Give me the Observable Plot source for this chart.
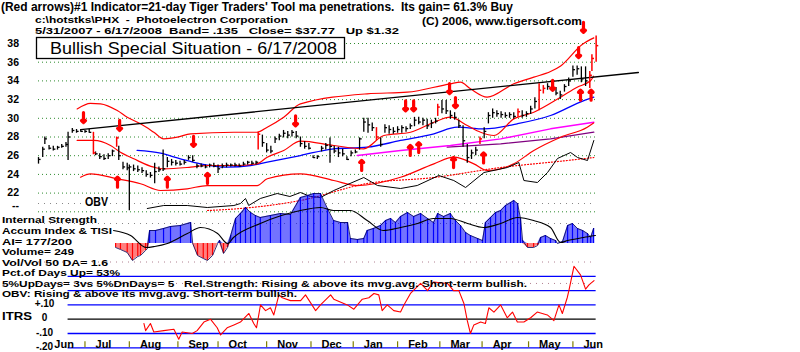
<!DOCTYPE html>
<html><head><meta charset="utf-8">
<script src="https://cdn.jsdelivr.net/npm/d3@7"></script>
<script src="https://cdn.jsdelivr.net/npm/@observablehq/plot@0.6"></script>
<style>
html,body{margin:0;padding:0;background:#fff;}
#chart{position:relative;width:800px;height:352px;overflow:hidden;background:#fff;font-family:"Liberation Sans",Arial,sans-serif;}
#chart svg{position:absolute;left:0;top:0;}
</style></head><body><div id="chart"></div>
<script>
// ---------------- DATA (x = trading day since 5/31/2007) ----------------
const priceTicks = [22,24,26,28,30,32,34,36,38];
const gridLevels = [20,22,24,26,28,30,32,34,36,38];
const lowLabel = "--";
// [day, high, low, close]
const bars = [[0,25.8,25.1,25.6],[2,26.9,25.8,26.7],[3,28.0,27.2,27.8],[5,27.1,26.6,26.8],[7,27.0,26.5,26.7],[9,27.0,26.6,26.9],[11,27.2,26.8,27.0],[13,27.4,26.9,27.2],[14,28.5,25.5,28.0],[16,28.9,28.4,28.7],[18,28.8,28.4,28.6],[20,28.8,28.5,28.6],[22,28.7,28.4,28.6],[24,28.8,28.4,28.5],[26,28.5,26.1,26.3],[27,26.4,26.0,26.2],[29,26.2,25.6,25.9],[31,26.1,25.5,25.7],[33,26.2,25.6,26.0],[35,26.6,25.9,26.5],[37,28.0,26.9,27.9],[38,27.0,25.5,26.0],[40,25.3,24.5,24.8],[42,25.2,24.4,24.7],[43,25.0,20.1,24.8],[45,25.0,24.3,24.6],[47,24.9,24.2,24.5],[49,24.7,24.1,24.4],[51,24.4,23.7,24.0],[53,24.2,23.6,23.9],[55,25.2,23.0,24.3],[57,24.8,24.2,24.5],[59,26.6,24.3,24.6],[61,25.8,24.7,25.4],[63,25.6,24.9,25.3],[65,25.5,24.9,25.2],[67,25.4,24.9,25.1],[69,25.5,25.0,25.3],[71,26.0,25.5,25.8],[73,26.0,25.3,25.5],[75,25.1,24.6,24.9],[77,25.1,24.7,24.9],[79,25.0,24.6,24.8],[81,25.1,24.7,25.0],[83,25.2,24.7,24.9],[85,25.0,24.1,24.6],[87,25.1,24.6,24.9],[89,25.2,24.7,25.0],[91,25.1,24.8,25.0],[93,25.2,24.8,25.0],[95,25.1,24.8,24.9],[97,25.3,24.9,25.1],[99,25.4,25.0,25.3],[101,25.4,25.0,25.2],[103,25.4,25.0,25.3],[104,28.5,26.6,28.3],[106,28.2,26.9,27.4],[108,27.3,26.3,26.6],[110,27.0,26.2,26.5],[112,28.0,27.3,27.8],[114,28.3,27.6,28.1],[116,28.7,27.9,28.4],[118,28.6,27.8,28.2],[120,28.7,28.0,28.5],[122,28.6,27.8,28.1],[124,28.0,26.9,27.3],[126,27.5,26.7,27.0],[128,27.3,26.6,26.8],[130,26.0,25.7,25.8],[132,26.0,25.6,25.9],[134,27.0,26.4,26.8],[136,27.3,26.6,27.1],[138,27.9,25.2,27.0],[140,27.0,26.2,26.5],[142,26.9,25.8,26.3],[144,26.7,25.9,26.2],[146,25.9,25.5,25.6],[148,26.5,25.9,26.3],[150,26.6,26.2,26.4],[152,27.9,26.6,27.8],[154,30.0,28.5,29.6],[156,30.0,28.4,29.3],[158,29.5,28.6,29.0],[160,29.0,27.6,28.0],[162,27.9,26.9,27.2],[164,29.3,28.4,29.0],[166,29.2,28.3,28.8],[168,29.0,28.3,28.6],[170,29.1,28.4,28.8],[172,29.2,28.4,29.0],[174,29.1,28.5,28.9],[176,29.4,28.8,29.2],[178,30.1,29.1,29.8],[180,30.1,29.3,29.6],[182,30.0,29.2,29.8],[184,29.9,28.8,29.2],[186,29.8,28.9,29.5],[188,30.0,29.4,29.7],[189,31.5,30.2,31.2],[191,31.9,30.5,31.0],[193,31.9,30.4,30.8],[195,30.8,29.9,30.3],[197,30.6,29.8,30.1],[199,29.8,28.9,29.2],[201,29.2,26.9,27.6],[203,27.2,25.2,25.8],[205,26.6,25.6,26.3],[207,26.9,26.0,26.6],[209,28.0,27.2,27.8],[211,29.0,27.8,28.6],[213,30.6,29.4,30.3],[215,31.0,30.0,30.6],[217,30.8,30.1,30.5],[219,30.7,30.0,30.4],[221,30.6,30.0,30.3],[223,30.6,30.0,30.4],[225,30.6,29.9,30.2],[227,31.0,30.1,30.7],[229,30.8,30.0,30.3],[231,30.7,30.1,30.5],[233,31.3,30.4,31.0],[235,32.2,31.0,31.8],[237,33.7,30.8,33.0],[239,33.5,32.6,33.2],[241,33.7,33.0,33.4],[243,33.6,33.0,33.3],[245,33.3,32.4,32.7],[247,32.9,32.0,32.5],[249,33.6,32.8,33.4],[251,34.3,33.4,34.0],[253,35.6,34.4,35.2],[255,35.6,34.6,35.3],[257,35.5,33.8,34.2],[259,35.5,33.4,34.0],[261,35.0,33.2,34.6],[262,36.8,35.0,36.4],[264,38.8,36.0,37.77]];
const redBarDays = [26,37,104,160,189,209,227,237,239,261,262,264];
const trendLine = [[20,28.78],[284,34.9]];
const upperBand = [[18.3,31.0],[24.6,31.6],[29.4,31.55],[37.3,30.83],[42,30.12],[48.3,29.41],[54.6,28.51],[59.3,27.8],[65.7,27.98],[72,28.34],[92.5,28.51],[103.5,28.51],[108.3,29.05],[116.1,30.12],[124,31.55],[155.6,32.62],[174.6,32.79],[195,33.69],[199.8,33.86],[204.5,33.15],[212.4,32.26],[225,33.69],[234.5,34.4],[242.4,35.0],[247.2,35.6],[257.4,37.9],[262.9,38.6]];
const midLine = [[18.3,27.63],[26.2,27.63],[34.1,27.09],[38.8,26.37],[45.1,25.67],[54.6,24.77],[59.3,24.59],[72,24.77],[79.9,24.95],[92.5,24.95],[103.5,25.13],[108.3,25.84],[116.1,26.56],[124,27.55],[139.8,27.09],[154,26.74],[163.5,28.16],[176.1,28.51],[187.2,29.58],[195,30.12],[203,29.23],[209.3,28.51],[215.6,28.16],[225,29.94],[234.5,30.65],[247.2,32.26],[255,33.33],[261.4,34.04],[262.8,34.5]];
const lowerBand = [[19.9,23.7],[24.6,24.06],[37.3,23.53],[48.3,23.0],[57.8,22.28],[70.4,22.46],[79.9,22.81],[103.5,22.81],[108.3,23.53],[124,24.06],[139.8,23.35],[150.9,22.81],[171.4,23.7],[187.2,25.13],[196.6,25.84],[206.1,25.13],[212.4,24.42],[225,25.13],[234.5,26.56],[247.2,27.98],[259.8,29.05],[262.8,29.5]];
const ma50 = [[46.7,26.56],[57.8,26.27],[67.2,25.67],[76.7,25.13],[89.3,24.77],[100.4,24.95],[108.3,25.31],[124,26.02],[139.8,26.74],[155.6,26.91],[171.4,27.63],[187.2,28.34],[198.2,29.05],[210.9,28.87],[226.6,29.41],[242.4,30.3],[258.2,31.9],[262.9,32.26]];
const maMagenta = [[150.9,26.02],[171.4,26.56],[195,27.09],[218.8,27.8],[242.4,28.87],[262.9,29.58]];
const maPurple = [[193.5,26.91],[218.8,27.27],[242.4,27.8],[262.9,28.51]];
const downArrows = [[21.3,29.55],[38.4,28.7],[73.4,27.0],[121.7,29.2],[173.8,30.8],[177.6,30.8],[194.6,32.65],[197.4,31.15],[243.4,33.0],[255.7,36.5],[258,39.2]];
const upArrows = [[37.4,23.7],[61,23.7],[80,24.1],[153,25.5],[176,27.1],[180,27.4],[196.5,25.8],[210.7,26.3],[256.6,33.0],[261.6,33.0]];
const obv = [[51.5,20],[59.3,50],[70.4,50],[79.9,30],[92.5,50],[95.6,70],[98,120],[99.5,50],[105,120],[113,170],[119,140],[124,180],[128.8,140],[133.5,130],[139.8,200],[154,330],[160.5,250],[171.4,220],[179.3,250],[189.5,350],[196.6,300],[202.2,230],[210.9,380],[222,430],[227.4,480],[229.8,300],[236.2,280],[241,380],[245.7,520],[251.9,580],[255.2,530],[259.9,500],[262.9,700]];
const obvMa = [[80,0],[95.6,20],[124,100],[155.6,270],[187.2,330],[218.8,430],[250.3,500],[262.9,530]];
const accum = [[36.5,-4],[38.8,-6],[42,-9],[44.5,-17],[47,-13],[48.3,-12],[50.7,-7],[51.6,-5],[52.6,13],[55.4,13],[59.2,15],[62.5,17],[67.2,18],[72,21],[73,0],[75.3,-12],[78,-15],[80,-17],[82.4,-12],[84.8,0],[85.7,3],[87.6,-10],[89.5,-4],[91,8],[93.3,25],[95.6,30],[98,36],[100.4,31],[102.7,28],[105,26],[109.8,28],[114.6,30],[119.3,29],[124,46],[127.4,48],[130.3,50],[133.5,50],[136.8,35],[139.7,23],[143,21],[146.3,21],[147.7,5],[151,4],[154,5],[155.6,13],[158.5,15],[161.9,18],[164.3,23],[166.7,25],[169,21],[171.4,27],[174.7,31],[177.6,27],[180.9,30],[184.2,25],[187,21],[189,30],[191.8,27],[195,30],[197.4,23],[199.8,18],[202.2,11],[204.5,8],[207.9,5],[210.2,3],[211.6,21],[214,26],[216.4,31],[218.8,33],[221.1,38],[223.5,41],[225,43],[226.8,40],[228.2,25],[229.2,3],[231.5,-4],[234.4,-4],[236.3,-2],[237.7,6],[240,8],[242.4,5],[244.8,3],[245.7,0],[248.1,2],[250.5,18],[252.8,20],[255.2,15],[257.6,13],[259.9,10],[261.4,6],[262.8,15]];
const tisi = [[35.5,13],[43.6,8],[51,-4],[55,-3],[61,0],[70.5,10],[76.7,16],[84.8,10],[89.5,0],[92.3,6],[105,20],[124,33],[133.5,36],[139.7,33],[147.7,33],[155.6,23],[163.2,13],[171.4,16],[179.5,20],[187,25],[195,25],[203.1,20],[210.7,16],[218.8,20],[226.8,26],[234.4,23],[242.4,16],[247.2,1],[250.5,3],[258,6],[263.7,8]];
const accumGrid = [20,40];
const itrs = [[49.9,-0.03],[50.7,-0.08],[53,-0.03],[54.6,-0.09],[59.3,-0.08],[64.1,-0.07],[66.4,-0.14],[68,-0.09],[72.8,-0.10],[75.1,-0.08],[78.3,-0.02],[81.4,0.0],[84.6,-0.06],[86.2,-0.11],[89.3,-0.06],[92.5,-0.04],[95.6,-0.02],[99.6,0.04],[101.9,-0.03],[103.2,-0.06],[105.1,0.10],[107.5,0.06],[109.8,0.08],[111.4,0.03],[113.8,0.17],[115.4,0.15],[119.3,0.13],[124.1,0.13],[126.4,0.17],[131.2,0.06],[133.5,0.10],[138.3,0.17],[139.8,0.14],[146.2,0.10],[149.3,0.07],[153.3,0.14],[156.4,0.15],[158.8,0.18],[161.1,0.17],[162.7,0.06],[165.1,0.10],[168.2,0.06],[171.4,0.05],[173,0.10],[176.1,0.18],[180.9,0.25],[184.2,0.20],[187,0.26],[193.6,0.25],[196.5,0.20],[199,0.20],[201.4,0.11],[203,-0.01],[204.5,-0.10],[206.1,-0.04],[209.3,-0.02],[211.6,-0.03],[213.2,0.08],[215.6,0.05],[218.8,0.10],[221.9,0.01],[224.4,0.05],[226.7,-0.02],[229.8,-0.02],[233,0.01],[236.1,0.05],[240.9,0.03],[244,-0.01],[246.4,0.10],[248,0.04],[250.3,0.15],[251.1,0.20],[253.5,0.37],[256.6,0.31],[259,0.21],[260.6,0.24],[263,0.27]];
const itrsLevels = [0.3,0.2,0.1,-0.1,-0.2];
const itrsDotted = [0.4,0.25];
const itrsTicks = [0.1,0,-0.1,-0.2];
const itrsTickLabels = ["+.10","0","-.10","-.20"];
const monthStarts = [0,22,43,66,85,108,129,149,170,190,210,232,253];
const monthNames = ["Jun","Jul","Aug","Sep","Oct","Nov","Dec","Jan","Feb","Mar","Apr","May","Jun"];
const topLines = [
  "(Red arrows)#1 Indicator=21-day Tiger Traders' Tool ma penetrations.  Its gain= 61.3% Buy",
  "c:\\hotstks\\PHX  -  Photoelectron Corporation",
  "5/31/2007 - 6/17/2008  Band= .135   Close= $37.77   Up $1.32",
  "(C) 2006, www.tigersoft.com"
];
const badgeText = "Bullish Special Situation - 6/17/2008";
const sideLines = ["Internal Strength","Accum Index & TISI","AI= 177/200","Volume= 249","Vol/Vol 50 DA= 1.6","Pct.of Days Up= 53%",
  "5%UpDays= 3vs 5%DnDays= 5   Rel.Strength: Rising & above its mvg.avg. Short-term bullish.",
  "OBV: Rising & above its mvg.avg. Short-term bullish."];
const obvLabel = "OBV";
const itrsLabel = "ITRS";

// ---------------- LAYOUT ----------------
const W = 800, H = 352, ML = 38, MR = 160, XD = [0, 285], LAST = 264;
const FONT = "'Liberation Sans', Arial, sans-serif";
const root = document.getElementById("chart");
const fx = d => d[0], fy = d => d[1];
function layer(o) {
  return Plot.plot(Object.assign({
    width: W, height: H, marginLeft: ML, marginRight: MR,
    x: {domain: XD, axis: null},
    style: {background: "transparent", overflow: "visible", fontFamily: FONT}
  }, o));
}
const isRed = d => redBarDays.includes(d[0]);

// price layer
root.appendChild(layer({
  marginTop: 43, marginBottom: 140.7,
  y: {domain: [20, 38]},
  marks: [
    Plot.ruleY(gridLevels, {x1: 0, x2: LAST, stroke: "#2e8b2e", strokeDasharray: "1,3"}),
    Plot.axisY(priceTicks, {tickSize: 0, tickPadding: 19.5, fontSize: 10.5, fontWeight: "bold", fill: "#000", label: null}),
    Plot.text([lowLabel], {x: 0, y: 20, dx: -19.5, dy: -6, text: d => d, textAnchor: "end", fontSize: 10.5, fontWeight: "bold", fill: "#000"}),
    Plot.line(maPurple, {x: fx, y: fy, stroke: "#800080", strokeWidth: 1.3}),
    Plot.line(maMagenta, {x: fx, y: fy, stroke: "#ff00ff", strokeWidth: 1.5}),
    Plot.line(ma50, {x: fx, y: fy, stroke: "#0000ff", strokeWidth: 1.3, curve: "monotone-x"}),
    Plot.line(upperBand, {x: fx, y: fy, stroke: "#ff0000", strokeWidth: 1.2, curve: "monotone-x"}),
    Plot.line(midLine, {x: fx, y: fy, stroke: "#ff0000", strokeWidth: 1.2, curve: "monotone-x"}),
    Plot.line(lowerBand, {x: fx, y: fy, stroke: "#ff0000", strokeWidth: 1.2, curve: "monotone-x"}),
    Plot.line(trendLine, {x: fx, y: fy, stroke: "#000", strokeWidth: 1.3}),
    Plot.ruleX(bars.filter(d => !isRed(d)), {x: fx, y1: d => d[2], y2: d => d[1], stroke: "#000", strokeWidth: 1.3}),
    Plot.link(bars.filter(d => !isRed(d)), {x1: fx, x2: d => d[0] + 1, y1: d => d[3], y2: d => d[3], stroke: "#000", strokeWidth: 1.3}),
    Plot.ruleX(bars.filter(isRed), {x: fx, y1: d => d[2], y2: d => d[1], stroke: "#ff0000", strokeWidth: 1.5}),
    Plot.link(bars.filter(isRed), {x1: fx, x2: d => d[0] + 1, y1: d => d[3], y2: d => d[3], stroke: "#ff0000", strokeWidth: 1.5}),
    Plot.vector(downArrows, {x: fx, y: fy, length: 10, rotate: 180, anchor: "end", shape: "arrow", stroke: "#ff0000", strokeWidth: 3.2}),
    Plot.vector(upArrows, {x: fx, y: fy, length: 10, rotate: 0, anchor: "end", shape: "arrow", stroke: "#ff0000", strokeWidth: 3.2})
  ]
}));

// OBV layer
root.appendChild(layer({
  marginTop: 140, marginBottom: 142,
  y: {domain: [0, 700], axis: null},
  marks: [
    Plot.line(obvMa, {x: fx, y: fy, stroke: "#ff0000", strokeWidth: 1.2, strokeDasharray: "1,2", curve: "monotone-x"}),
    Plot.line(obv, {x: fx, y: fy, stroke: "#000", strokeWidth: 1})
  ]
}));

// Accumulation index layer
root.appendChild(layer({
  marginTop: 193, marginBottom: 89,
  y: {domain: [-20, 50], axis: null},
  marks: [
    Plot.ruleY(accumGrid, {x1: 0, x2: LAST, stroke: "#888", strokeDasharray: "1,5"}),
    Plot.areaY(accum, {x: fx, y: d => Math.max(0, d[1]), fill: "#0000ff", fillOpacity: 0.55}),
    Plot.areaY(accum, {x: fx, y: d => Math.min(0, d[1]), fill: "#ff0000", fillOpacity: 0.5}),
    Plot.ruleX(accum.filter(d => d[1] > 0), {x: fx, y1: 0, y2: fy, stroke: "#0000ff", strokeWidth: 1.2}),
    Plot.ruleX(accum.filter(d => d[1] < 0), {x: fx, y1: 0, y2: fy, stroke: "#ff0000", strokeWidth: 1.2}),
    Plot.line(accum, {x: fx, y: fy, stroke: "#000050", strokeWidth: 0.8}),
    Plot.line(tisi, {x: fx, y: fy, stroke: "#000", strokeWidth: 1.1, curve: "monotone-x"})
  ]
}));

// ITRS layer
const monthLabelDays = monthStarts.map((d, i) => d + (i === 0 ? 7.5 : 5));
root.appendChild(layer({
  marginTop: 261.5, marginBottom: 4.7,
  y: {domain: [-0.2, 0.4], axis: null},
  marks: [
    Plot.ruleY(itrsDotted, {x1: 0, x2: LAST, stroke: "#b08090", strokeDasharray: "1,5"}),
    Plot.ruleY(itrsLevels, {x1: 14, x2: LAST, stroke: "#0000ff", strokeWidth: 1.3}),
    Plot.ruleY([0], {x1: 14, x2: LAST, stroke: "#000", strokeWidth: 1.3}),
    Plot.line(itrs, {x: fx, y: fy, stroke: "#ff0000", strokeWidth: 1.1}),
    Plot.ruleX(monthStarts.slice(1), {y1: -0.158, y2: -0.2, stroke: "#808000", strokeWidth: 1.2}),
    Plot.text(monthNames, {x: (d, i) => monthLabelDays[i], y: -0.2, dy: -3, text: d => d, textAnchor: "start",
      fontSize: 11, fontWeight: "bold", fill: "#000"}),
    Plot.text(itrsTicks, {x: 0, dx: 6, y: d => d, dy: -1, text: (d, i) => itrsTickLabels[i], textAnchor: "middle",
      fontSize: 10, fontWeight: "bold", fill: "#000"})
  ]
}));

// text overlay
const ov = d3.select(root).append("svg").attr("width", W).attr("height", H)
  .style("font-family", FONT).style("overflow", "visible");
function txt(s, x, y, w, fs, bold) {
  ov.append("text").attr("x", x).attr("y", y).attr("font-size", fs)
    .attr("font-weight", bold ? "bold" : "normal").attr("fill", "#000")
    .attr("textLength", w).attr("lengthAdjust", "spacingAndGlyphs")
    .style("white-space", "pre").text(s);
}
const topLayout = [[1, 11, 512, 12], [35, 23, 253, 9.8], [35, 34, 364, 9.8], [422, 25, 160, 11]];
topLines.forEach((s, i) => txt(s, topLayout[i][0], topLayout[i][1], topLayout[i][2], topLayout[i][3], true));
ov.append("rect").attr("x", 36.5).attr("y", 37.5).attr("width", 308).attr("height", 21)
  .attr("fill", "#fff").attr("stroke", "#000").attr("stroke-width", 1.3);
txt(badgeText, 50, 54, 287, 17, false);
txt(obvLabel, 85, 206, 23, 12.5, true);
const sideBase = [223, 234, 244.5, 255, 265.5, 276, 286.5, 296.5];
const sideW = [95, 110, 70, 72, 106, 118, 525, 295];
sideLines.forEach((s, i) => txt(s, 2, sideBase[i], sideW[i], 9.4, true));
txt(itrsLabel, 2, 320, 30, 11.5, true);
</script></body></html>
